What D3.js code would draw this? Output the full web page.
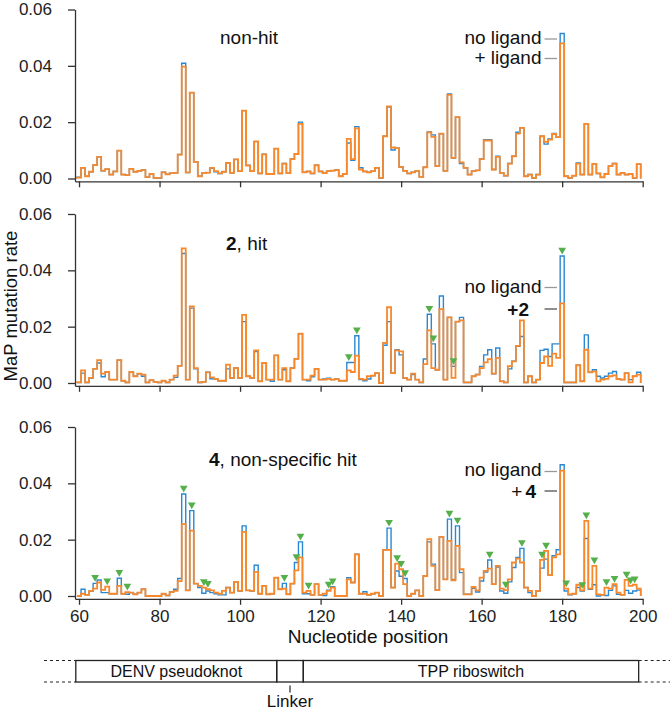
<!DOCTYPE html>
<html><head><meta charset="utf-8">
<script src="https://cdn.jsdelivr.net/npm/d3@7"></script>
<style>
body{margin:0;background:#fff;}
svg{font-family:"Liberation Sans",Arial,Helvetica,sans-serif;}
</style>
</head><body>
<svg id="c" width="670" height="711"></svg>
<script>
// ---------- DATA ----------
const startPos = 60; // first nucleotide position
const xTicks = [60, 80, 100, 120, 140, 160, 180, 200];
const yTicks = [0, 0.02, 0.04, 0.06];

// Panel 1: non-hit
const noLig1 = [
0.0005,0.0038,0.0008,0.0024,0.0048,0.0077,0.0027,0.0033,0.0014,0.0025,
0.0099,0.0014,0.0012,0.0034,0.0024,0.0027,0.0030,0.0005,0.0016,0.0002,
0.0002,0.0022,0.0015,0.0019,0.0020,0.0085,0.0409,0.0021,0.0305,0.0059,
0.0008,0.0019,0.0021,0.0036,0.0024,0.0018,0.0024,0.0055,0.0020,0.0068,
0.0026,0.0241,0.0047,0.0026,0.0131,0.0018,0.0086,0.0016,0.0016,0.0106,
0.0018,0.0053,0.0019,0.0069,0.0087,0.0200,0.0022,0.0025,0.0018,0.0047,
0.0025,0.0019,0.0026,0.0028,0.0030,0.0008,0.0016,0.0126,0.0065,0.0184,
0.0038,0.0025,0.0022,0.0026,0.0038,0.0002,0.0150,0.0254,0.0101,0.0108,
0.0041,0.0027,0.0018,0.0022,0.0027,0.0006,0.0040,0.0165,0.0155,0.0044,
0.0159,0.0027,0.0300,0.0073,0.0218,0.0053,0.0038,0.0014,0.0026,0.0029,
0.0069,0.0138,0.0138,0.0032,0.0079,0.0020,0.0010,0.0053,0.0079,0.0164,
0.0180,0.0008,0.0014,0.0002,0.0014,0.0150,0.0122,0.0140,0.0160,0.0147,
0.0515,0.0008,0.0002,0.0010,0.0055,0.0014,0.0194,0.0014,0.0052,0.0018,
0.0004,0.0016,0.0044,0.0053,0.0014,0.0020,0.0014,0.0016,0.0002,0.0051];
const lig1 = [
0.0003,0.0038,0.0008,0.0024,0.0048,0.0077,0.0028,0.0033,0.0014,0.0025,
0.0099,0.0014,0.0012,0.0034,0.0024,0.0027,0.0030,0.0005,0.0016,0.0002,
0.0002,0.0022,0.0015,0.0019,0.0020,0.0085,0.0397,0.0022,0.0305,0.0059,
0.0008,0.0019,0.0021,0.0038,0.0026,0.0018,0.0024,0.0055,0.0020,0.0068,
0.0026,0.0241,0.0046,0.0026,0.0132,0.0018,0.0086,0.0016,0.0016,0.0106,
0.0018,0.0053,0.0019,0.0069,0.0087,0.0194,0.0022,0.0025,0.0018,0.0047,
0.0025,0.0019,0.0026,0.0028,0.0030,0.0008,0.0016,0.0141,0.0069,0.0178,
0.0032,0.0025,0.0022,0.0026,0.0038,0.0002,0.0150,0.0256,0.0110,0.0108,
0.0041,0.0027,0.0018,0.0022,0.0027,0.0006,0.0040,0.0164,0.0148,0.0044,
0.0159,0.0027,0.0297,0.0073,0.0218,0.0057,0.0038,0.0014,0.0026,0.0029,
0.0069,0.0135,0.0135,0.0032,0.0077,0.0020,0.0010,0.0053,0.0079,0.0159,
0.0180,0.0008,0.0014,0.0002,0.0014,0.0150,0.0130,0.0138,0.0158,0.0147,
0.0480,0.0008,0.0002,0.0010,0.0053,0.0014,0.0194,0.0014,0.0052,0.0018,
0.0004,0.0016,0.0044,0.0053,0.0014,0.0020,0.0014,0.0016,0.0002,0.0051];

// Panel 2: compound 2, hit
const noLig2 = [
0.0002,0.0035,0.0002,0.0018,0.0050,0.0071,0.0022,0.0039,0.0012,0.0012,
0.0081,0.0008,0.0002,0.0039,0.0024,0.0033,0.0024,0.0002,0.0010,0.0004,
0.0002,0.0008,0.0002,0.0012,0.0020,0.0061,0.0460,0.0012,0.0266,0.0050,
0.0002,0.0004,0.0038,0.0015,0.0014,0.0008,0.0008,0.0050,0.0018,0.0053,
0.0018,0.0218,0.0024,0.0018,0.0112,0.0006,0.0071,0.0012,0.0006,0.0098,
0.0012,0.0047,0.0006,0.0053,0.0086,0.0175,0.0012,0.0008,0.0022,0.0050,
0.0012,0.0014,0.0017,0.0012,0.0014,0.0008,0.0008,0.0073,0.0073,0.0168,
0.0012,0.0008,0.0014,0.0026,0.0035,0.0000,0.0134,0.0218,0.0035,0.0118,
0.0100,0.0018,0.0012,0.0030,0.0012,0.0002,0.0085,0.0244,0.0139,0.0047,
0.0309,0.0012,0.0233,0.0059,0.0218,0.0233,0.0002,0.0002,0.0024,0.0030,
0.0059,0.0100,0.0118,0.0033,0.0124,0.0006,0.0002,0.0050,0.0077,0.0130,
0.0165,0.0002,0.0024,0.0002,0.0012,0.0116,0.0120,0.0094,0.0139,0.0139,
0.0451,0.0002,0.0002,0.0002,0.0063,0.0006,0.0171,0.0038,0.0047,0.0024,
0.0018,0.0024,0.0035,0.0041,0.0014,0.0012,0.0035,0.0012,0.0024,0.0038];
const lig2 = [
0.0002,0.0045,0.0002,0.0018,0.0050,0.0081,0.0033,0.0039,0.0012,0.0012,
0.0081,0.0008,0.0002,0.0039,0.0024,0.0033,0.0030,0.0002,0.0010,0.0004,
0.0002,0.0008,0.0002,0.0012,0.0026,0.0061,0.0478,0.0012,0.0272,0.0053,
0.0002,0.0004,0.0038,0.0020,0.0014,0.0008,0.0008,0.0065,0.0018,0.0053,
0.0018,0.0242,0.0024,0.0018,0.0116,0.0006,0.0071,0.0012,0.0012,0.0098,
0.0012,0.0053,0.0006,0.0053,0.0086,0.0175,0.0012,0.0012,0.0026,0.0050,
0.0012,0.0012,0.0015,0.0012,0.0014,0.0008,0.0008,0.0045,0.0039,0.0097,
0.0015,0.0012,0.0024,0.0026,0.0035,0.0000,0.0142,0.0269,0.0035,0.0116,
0.0112,0.0018,0.0012,0.0033,0.0012,0.0002,0.0067,0.0187,0.0053,0.0047,
0.0262,0.0012,0.0233,0.0018,0.0218,0.0222,0.0002,0.0002,0.0024,0.0030,
0.0053,0.0073,0.0085,0.0033,0.0089,0.0006,0.0002,0.0060,0.0077,0.0132,
0.0222,0.0002,0.0024,0.0002,0.0012,0.0071,0.0094,0.0061,0.0104,0.0089,
0.0283,0.0002,0.0002,0.0002,0.0063,0.0006,0.0118,0.0038,0.0041,0.0006,
0.0012,0.0015,0.0024,0.0027,0.0014,0.0012,0.0035,0.0002,0.0024,0.0030];
const marks2 = [127, 129, 147, 148, 153, 180];

// Panel 3: compound 4, non-specific hit
const noLig4 = [
0.0000,0.0024,0.0004,0.0018,0.0045,0.0057,0.0012,0.0012,0.0008,0.0008,
0.0063,0.0008,0.0006,0.0012,0.0006,0.0012,0.0024,0.0000,0.0000,0.0000,
0.0000,0.0008,0.0002,0.0014,0.0024,0.0062,0.0362,0.0020,0.0303,0.0044,
0.0030,0.0010,0.0018,0.0012,0.0008,0.0004,0.0004,0.0030,0.0012,0.0050,
0.0018,0.0249,0.0020,0.0018,0.0109,0.0008,0.0036,0.0006,0.0008,0.0065,
0.0024,0.0045,0.0006,0.0044,0.0119,0.0192,0.0008,0.0008,0.0004,0.0042,
0.0004,0.0002,0.0021,0.0033,0.0000,0.0000,0.0000,0.0065,0.0048,0.0148,
0.0008,0.0015,0.0004,0.0008,0.0012,0.0000,0.0164,0.0241,0.0030,0.0089,
0.0070,0.0062,0.0000,0.0008,0.0020,0.0000,0.0071,0.0192,0.0113,0.0021,
0.0210,0.0059,0.0273,0.0059,0.0249,0.0083,0.0006,0.0006,0.0027,0.0014,
0.0053,0.0085,0.0128,0.0042,0.0103,0.0018,0.0010,0.0050,0.0101,0.0137,
0.0169,0.0030,0.0012,0.0000,0.0018,0.0099,0.0131,0.0074,0.0143,0.0164,
0.0466,0.0018,0.0004,0.0008,0.0030,0.0018,0.0204,0.0024,0.0040,0.0000,
0.0004,0.0002,0.0020,0.0036,0.0006,0.0004,0.0020,0.0010,0.0018,0.0021];
const lig4 = [
0.0000,0.0008,0.0004,0.0018,0.0026,0.0048,0.0022,0.0033,0.0008,0.0008,
0.0036,0.0008,0.0014,0.0012,0.0006,0.0012,0.0024,0.0000,0.0000,0.0000,
0.0000,0.0008,0.0002,0.0014,0.0018,0.0053,0.0255,0.0020,0.0232,0.0044,
0.0036,0.0030,0.0024,0.0020,0.0012,0.0008,0.0018,0.0030,0.0012,0.0050,
0.0018,0.0228,0.0020,0.0018,0.0086,0.0008,0.0036,0.0006,0.0008,0.0065,
0.0024,0.0026,0.0006,0.0044,0.0091,0.0137,0.0012,0.0018,0.0004,0.0042,
0.0004,0.0008,0.0018,0.0030,0.0000,0.0000,0.0000,0.0059,0.0048,0.0148,
0.0008,0.0008,0.0004,0.0008,0.0012,0.0000,0.0164,0.0164,0.0030,0.0115,
0.0095,0.0042,0.0000,0.0008,0.0020,0.0000,0.0071,0.0202,0.0107,0.0021,
0.0210,0.0059,0.0196,0.0056,0.0178,0.0095,0.0006,0.0006,0.0032,0.0020,
0.0065,0.0089,0.0097,0.0042,0.0107,0.0026,0.0021,0.0059,0.0119,0.0133,
0.0119,0.0030,0.0018,0.0000,0.0018,0.0128,0.0160,0.0074,0.0137,0.0148,
0.0445,0.0026,0.0006,0.0008,0.0040,0.0020,0.0267,0.0026,0.0107,0.0006,
0.0004,0.0030,0.0026,0.0042,0.0012,0.0004,0.0057,0.0036,0.0040,0.0026];
const marks4 = [64, 67, 70, 72, 86, 88, 91, 92, 111, 114, 115, 117, 122, 123,
  137, 139, 140, 141, 152, 154, 162, 166, 170, 175, 176, 181, 185, 186, 188,
  191, 193, 196, 197, 198];

// Schematic regions (nucleotide spans)
const regions = [
  {name: "DENV pseudoknot", start: 59.2, end: 109.1},
  {name: "", start: 109.1, end: 115.7},
  {name: "TPP riboswitch", start: 115.7, end: 199.0}
];
const linkerPos = 112.4;

// ---------- DRAW ----------
const BLUE = "#2a88d2", ORANGE = "#f8882c", GREEN = "#55b04c", AX = "#333";
const svg = d3.select("#c");
const x = d3.scaleLinear().domain([59, 200]).range([75, 642.7]);
const H = 169; // pixel height for 0..0.06

const panels = [
  {top: 9.5, noLig: noLig1, lig: lig1, marks: []},
  {top: 214, noLig: noLig2, lig: lig2, marks: marks2},
  {top: 427, noLig: noLig4, lig: lig4, marks: marks4}
];

panels.forEach((p, pi) => {
  const y = d3.scaleLinear().domain([-0.001, 0.06]).range([p.top + H * 61 / 60, p.top]);
  const g = svg.append("g");

  const xa = g.append("g").attr("transform", `translate(0,${y(-0.001)})`)
    .call(d3.axisBottom(x).tickValues(xTicks).tickSize(6).tickSizeOuter(0).tickPadding(5)
      .tickFormat(pi === 2 ? d3.format("d") : () => ""));
  const ya = g.append("g").attr("transform", `translate(${x(59)},0)`)
    .call(d3.axisLeft(y).tickValues(yTicks).tickSize(7).tickSizeOuter(0).tickPadding(16)
      .tickFormat(d3.format(".2f")));
  [xa, ya].forEach(a => {
    a.select(".domain").attr("stroke", AX).attr("stroke-width", 1.3);
    a.selectAll(".tick line").attr("stroke", AX).attr("stroke-width", 1.3);
    a.selectAll(".tick text").attr("fill", "#222").style("font-size", "17px")
      .style("font-family", '"Liberation Sans",Arial,sans-serif');
  });

  const line = d3.line().x(d => x(d[0])).y(d => y(d[1]));
  const pts = vals => [[startPos - 0.5, 0]]
    .concat(vals.flatMap((v, i) => [[startPos + i - 0.5, v], [startPos + i + 0.5, v]]))
    .concat([[startPos + vals.length - 0.5, 0]]);

  g.append("path").attr("d", line(pts(p.noLig))).attr("fill", "none")
    .attr("stroke", BLUE).attr("stroke-width", 1.4).attr("stroke-linejoin", "miter");
  g.append("path").attr("d", line(pts(p.lig))).attr("fill", "none")
    .attr("stroke", ORANGE).attr("stroke-width", 1.8).attr("stroke-linejoin", "miter");

  const tri = d3.symbol(d3.symbolTriangle, 26);
  g.selectAll("path.mark").data(p.marks).join("path").attr("class", "mark")
    .attr("d", tri)
    .attr("fill", GREEN)
    .attr("transform", n => {
      const i = n - startPos;
      const m = Math.max(p.noLig[i], p.lig[i]);
      return `translate(${x(n)},${y(m) - 6}) rotate(180)`;
    });
});

// panel titles
svg.append("text").attr("x", 220).attr("y", 44).style("font-size", "19px").attr("fill", "#111").text("non-hit");
const t2 = svg.append("text").attr("x", 226).attr("y", 250).style("font-size", "19px").attr("fill", "#111");
t2.append("tspan").attr("font-weight", "bold").text("2");
t2.append("tspan").text(", hit");
const t3 = svg.append("text").attr("x", 209).attr("y", 466).style("font-size", "19px").attr("fill", "#111");
t3.append("tspan").attr("font-weight", "bold").text("4");
t3.append("tspan").text(", non-specific hit");

// legends
function legendRow(yBase, dashY, label, dashColor) {
  svg.append("text").attr("x", 541.5).attr("y", yBase).attr("text-anchor", "end")
    .style("font-size", "19px").attr("fill", "#111").text(label);
  svg.append("line").attr("x1", 544.5).attr("x2", 557).attr("y1", dashY).attr("y2", dashY)
    .attr("stroke", dashColor).attr("stroke-width", 1.3);
}
legendRow(44, 39, "no ligand", "#999");
legendRow(64, 58.5, "+ ligand", "#999");
legendRow(293, 287.5, "no ligand", "#999");
svg.append("text").attr("x", 529).attr("y", 316).attr("text-anchor", "end")
  .style("font-size", "19px").attr("font-weight", "bold").attr("fill", "#111").text("+2");
svg.append("line").attr("x1", 544.5).attr("x2", 557).attr("y1", 309).attr("y2", 309)
  .attr("stroke", "#444").attr("stroke-width", 1.2);
legendRow(476, 471.5, "no ligand", "#999");
const t4 = svg.append("text").attr("x", 536).attr("y", 498).attr("text-anchor", "end")
  .style("font-size", "19px").attr("fill", "#111");
t4.append("tspan").text("+");
t4.append("tspan").attr("dx", 3).attr("font-weight", "bold").text("4");
svg.append("line").attr("x1", 544.5).attr("x2", 557).attr("y1", 491).attr("y2", 491)
  .attr("stroke", "#444").attr("stroke-width", 1.2);

// axis titles
svg.append("text").attr("transform", "translate(17,306) rotate(-90)").attr("text-anchor", "middle")
  .style("font-size", "18.5px").attr("fill", "#111").text("MaP mutation rate");
svg.append("text").attr("x", 368).attr("y", 643).attr("text-anchor", "middle")
  .style("font-size", "19px").attr("fill", "#111").text("Nucleotide position");

// schematic
const bTop = 660.5, bBot = 682;
const sg = svg.append("g");
sg.selectAll("rect.reg").data(regions).join("rect").attr("class", "reg")
  .attr("x", d => x(d.start)).attr("width", d => x(d.end) - x(d.start))
  .attr("y", bTop).attr("height", bBot - bTop)
  .attr("fill", "none").attr("stroke", "#222").attr("stroke-width", 1.3);
sg.selectAll("text.reg").data(regions.filter(d => d.name)).join("text").attr("class", "reg")
  .attr("x", d => (x(d.start) + x(d.end)) / 2).attr("y", 677)
  .attr("text-anchor", "middle").style("font-size", "16px").attr("fill", "#111").text(d => d.name);
[[44, x(59.2)], [x(199.0), 670]].forEach(([a, b]) => {
  [bTop, bBot].forEach(yy => sg.append("line").attr("x1", a).attr("x2", b).attr("y1", yy).attr("y2", yy)
    .attr("stroke", "#222").attr("stroke-width", 1.2).attr("stroke-dasharray", "3,3"));
});
sg.append("line").attr("x1", x(linkerPos)).attr("x2", x(linkerPos)).attr("y1", 685.5).attr("y2", 692.5)
  .attr("stroke", "#222").attr("stroke-width", 1.2);
sg.append("text").attr("x", x(linkerPos)).attr("y", 707).attr("text-anchor", "middle")
  .style("font-size", "17px").attr("fill", "#111").text("Linker");
</script>
</body></html>
